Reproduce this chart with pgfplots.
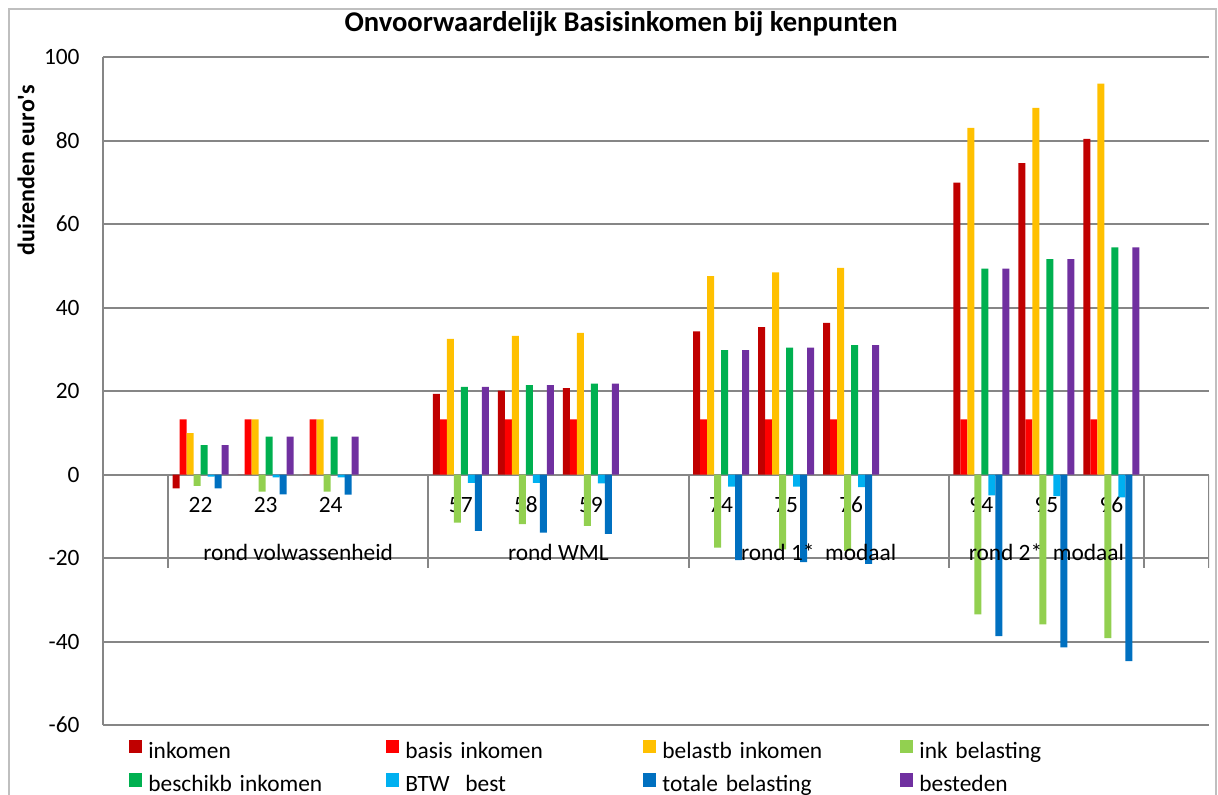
\documentclass[border=0pt]{standalone}
\usepackage{pgfplots}
\pgfplotsset{compat=1.18}
\usepackage{fontspec}
\setmainfont{Carlito}
\definecolor{cInk}{HTML}{C00000}
\definecolor{cBas}{HTML}{FF0000}
\definecolor{cBel}{HTML}{FFC000}
\definecolor{cIkb}{HTML}{92D050}
\definecolor{cBes}{HTML}{00B050}
\definecolor{cBtw}{HTML}{00B0F0}
\definecolor{cTot}{HTML}{0070C0}
\definecolor{cBst}{HTML}{7030A0}
\definecolor{gridgray}{HTML}{868686}
\definecolor{bordergray}{HTML}{BFBFBF}
\begin{document}
\fontsize{11.7pt}{14pt}\selectfont
\begin{tikzpicture}
\begin{axis}[
  at={(51.5pt,-362.5pt)}, anchor=south west,
  scale only axis, width=553pt, height=334pt,
  xmin=-0.5, xmax=16.5, ymin=-60, ymax=100,
  axis x line*=middle, axis y line*=left,
  every inner x axis line/.append style={-},
  every outer y axis line/.append style={-},
  every outer x axis line/.append style={-},
  axis line style={line width=1pt, color=gridgray},
  ytick={-60,-40,...,100},
  ymajorgrids, grid style={line width=1pt, color=gridgray},
  major tick length=0pt,
  xtick={1,2,3,5,6,7,9,10,11,13,14,15},
  xticklabels={22,23,24,57,58,59,74,75,76,94,95,96},
  xticklabel style={anchor=base, yshift=-19.1pt},
  yticklabel style={anchor=east, xshift=-7.6pt},
  /pgf/number format/assume math mode=true,
  title={Onvoorwaardelijk Basisinkomen bij kenpunten},
  title style={at={(axis description cs:0.4684,1.0314)}, anchor=center, yshift=0pt, font=\fontsize{14.3pt}{17pt}\selectfont\bfseries},
  ylabel={duizenden euro\textquotesingle s},
  ylabel style={at={(axis description cs:-0.0696,0.8308)}, anchor=center, font=\fontsize{12pt}{14pt}\selectfont\bfseries},
  legend columns=4,
  legend cell align=left,
  legend image code/.code={\fill[#1] (0pt,-0.3pt) rectangle (6.7pt,6.4pt);},
  legend style={at={(axis description cs:0.0235,-0.0225)}, anchor=north west,
    draw=none, fill=none, inner sep=0pt, outer sep=0pt, row sep=5pt,
    nodes={inner sep=0pt, text height=8pt, text depth=2.5pt, text width=118.8pt, align=left},
    /tikz/every odd column/.style={column sep=3pt}},
]
\addplot[ybar, bar width=0.1077, bar shift=-0.377, fill=cInk, draw=none] coordinates {(1,-3.3) (2,0) (3,0) (5,19.3) (6,20.1) (7,20.7) (9,34.3) (10,35.3) (11,36.3) (13,69.9) (14,74.6) (15,80.4)};
\addlegendentry{inkomen}
\addplot[ybar, bar width=0.1077, bar shift=-0.269, fill=cBas, draw=none] coordinates {(1,13.2) (2,13.2) (3,13.2) (5,13.2) (6,13.2) (7,13.2) (9,13.2) (10,13.2) (11,13.2) (13,13.2) (14,13.2) (15,13.2)};
\addlegendentry{basis inkomen}
\addplot[ybar, bar width=0.1077, bar shift=-0.162, fill=cBel, draw=none] coordinates {(1,9.9) (2,13.2) (3,13.2) (5,32.5) (6,33.2) (7,33.9) (9,47.5) (10,48.4) (11,49.5) (13,83.0) (14,87.8) (15,93.6)};
\addlegendentry{belastb inkomen}
\addplot[ybar, bar width=0.1077, bar shift=-0.054, fill=cIkb, draw=none] coordinates {(1,-2.75) (2,-4.1) (3,-4.1) (5,-11.5) (6,-11.9) (7,-12.3) (9,-17.5) (10,-17.9) (11,-18.3) (13,-33.5) (14,-35.9) (15,-39.2)};
\addlegendentry{ink belasting}
\addplot[ybar, bar width=0.1077, bar shift=0.054, fill=cBes, draw=none] coordinates {(1,7.07) (2,9.05) (3,9.05) (5,21.0) (6,21.4) (7,21.8) (9,29.8) (10,30.4) (11,31.0) (13,49.3) (14,51.6) (15,54.4)};
\addlegendentry{beschikb inkomen}
\addplot[ybar, bar width=0.1077, bar shift=0.162, fill=cBtw, draw=none] coordinates {(1,-0.5) (2,-0.7) (3,-0.7) (5,-2.0) (6,-2.0) (7,-2.1) (9,-2.9) (10,-2.9) (11,-3.0) (13,-5.0) (14,-5.2) (15,-5.5)};
\addlegendentry{BTW\ \ best}
\addplot[ybar, bar width=0.1077, bar shift=0.269, fill=cTot, draw=none] coordinates {(1,-3.3) (2,-4.75) (3,-4.8) (5,-13.5) (6,-13.9) (7,-14.2) (9,-20.5) (10,-21.0) (11,-21.4) (13,-38.7) (14,-41.4) (15,-44.7)};
\addlegendentry{totale belasting}
\addplot[ybar, bar width=0.1077, bar shift=0.377, fill=cBst, draw=none] coordinates {(1,7.07) (2,9.05) (3,9.05) (5,21.0) (6,21.4) (7,21.8) (9,29.8) (10,30.4) (11,31.0) (13,49.3) (14,51.6) (15,54.4)};
\addlegendentry{besteden}
\foreach \xx in {0.5,4.5,8.5,12.5,15.5,16.5} {
  \edef\tmp{\noexpand\draw[gridgray, line width=1pt] (axis cs:\xx,0) -- (axis cs:\xx,-22.4);}\tmp
}
\node[anchor=base] at (axis cs:2.5,-20.5) {rond volwassenheid};
\node[anchor=base] at (axis cs:6.5,-20.5) {rond WML};
\node[anchor=base] at (axis cs:10.5,-20.5) {rond 1*\ \ modaal};
\node[anchor=base] at (axis cs:14,-20.5) {rond 2*\ \ modaal};
\end{axis}
\draw[bordergray, line width=1pt] (4.5pt,-410pt) -- (4.5pt,-4.4pt) -- (608pt,-4.4pt) -- (608pt,-410pt);
\pgfresetboundingbox
\path[use as bounding box] (0pt,0pt) rectangle (609pt,-397pt);
\end{tikzpicture}
\end{document}
